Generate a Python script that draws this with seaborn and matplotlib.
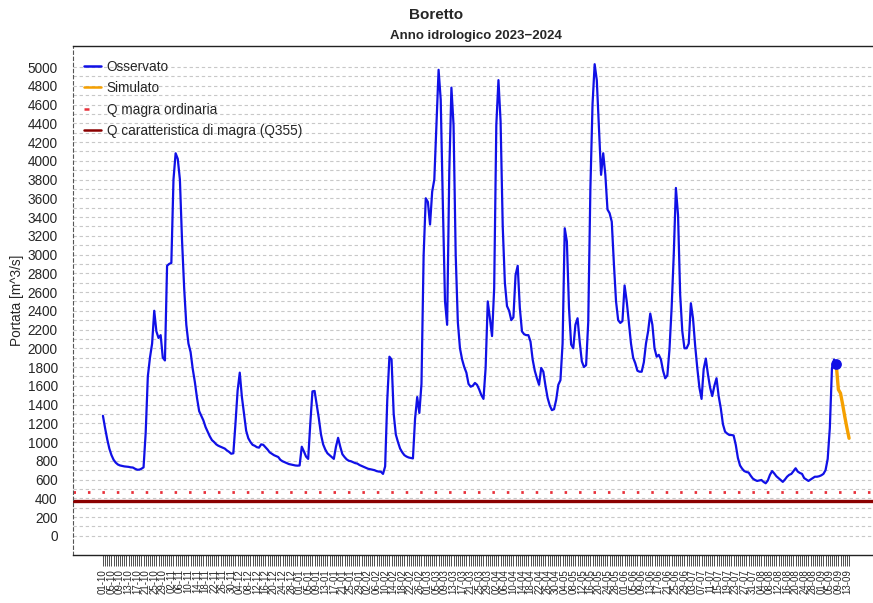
import numpy as np
import pandas as pd
import matplotlib
matplotlib.use("Agg")
import matplotlib.pyplot as plt
import matplotlib.dates as mdates
import seaborn as sns
from matplotlib.lines import Line2D

# ---------------- data ----------------
start_date = "2023-10-01"
osservato = [
    # Oct 2023
    1280, 1150, 1030, 930, 860, 810, 780, 760, 750, 745, 740, 738, 735, 730, 728, 715,
    705, 705, 715, 730, 1100, 1700, 1900, 2050, 2400, 2180, 2110, 2140, 1900, 1870, 2880,
    # Nov
    2900, 2910, 3800, 4080, 4020, 3800, 3150, 2640, 2250, 2050, 1960, 1780, 1640, 1470, 1330,
    1280, 1230, 1160, 1110, 1060, 1020, 1000, 975, 960, 950, 940, 930, 910, 895, 875,
    # Dec
    880, 1200, 1550, 1740, 1480, 1300, 1120, 1040, 1000, 970, 960, 945, 940, 975, 970, 945,
    920, 890, 875, 860, 850, 840, 810, 795, 785, 775, 765, 760, 755, 750, 748,
    # Jan 2024
    750, 950, 900, 845, 820, 1200, 1540, 1545, 1400, 1250, 1080, 975, 920, 880, 860, 840,
    820, 950, 1045, 950, 870, 840, 815, 800, 795, 785, 775, 770, 755, 745, 735,
    # Feb
    725, 715, 710, 705, 700, 690, 685, 683, 660, 740, 1450, 1910, 1880, 1300, 1080,
    1000, 930, 890, 860, 845, 835, 830, 825, 1250, 1480, 1310, 1620, 2990, 3600,
    # Mar
    3560, 3320, 3670, 3800, 4400, 4970, 4650, 3530, 2500, 2250, 3880, 4780, 4380, 3000, 2280, 2000,
    1880, 1800, 1740, 1620, 1590, 1600, 1630, 1610, 1560, 1500, 1460, 1790, 2500, 2320, 2130,
    # Apr
    2640, 4380, 4860, 4420, 3300, 2700, 2450, 2400, 2300, 2330, 2780, 2880, 2430, 2180, 2150,
    2140, 2140, 2070, 1880, 1760, 1680, 1610, 1790, 1750, 1600, 1470, 1390, 1340, 1350, 1450,
    # May
    1610, 1660, 2050, 3280, 3140, 2430, 2040, 2000, 2250, 2320, 2070, 1860, 1800, 1820, 2280, 3700,
    4600, 5030, 4860, 4350, 3850, 4080, 3850, 3480, 3440, 3350, 2900, 2500, 2300, 2270, 2290,
    # Jun
    2670, 2500, 2280, 2050, 1900, 1840, 1760, 1750, 1750, 1850, 2050, 2180, 2370, 2250, 2000,
    1910, 1930, 1880, 1760, 1680, 1710, 1990, 2430, 3000, 3710, 3420, 2570, 2180, 2000, 2000,
    # Jul
    2050, 2480, 2320, 2030, 1790, 1580, 1460, 1780, 1890, 1720, 1580, 1490, 1600, 1680, 1490, 1360,
    1190, 1110, 1090, 1075, 1075, 1070, 970, 830, 750, 715, 690, 680, 675, 640, 610,
    # Aug
    595, 585, 590, 595, 575, 560, 590, 650, 690, 665, 635, 615, 595, 575, 600, 630,
    650, 660, 690, 720, 685, 670, 660, 615, 600, 585, 600, 615, 630, 630, 635,
    # Sep
    645, 660, 700, 820, 1150, 1790, 1880, 1830,
]
simulato = [1830, 1560, 1520, 1400, 1270, 1150, 1040]
q_magra_ordinaria = 470
q355 = 375
y_ticks = list(range(0, 5001, 200))

# ---------------- frames ----------------
obs_dates = pd.date_range(start_date, periods=len(osservato), freq="D")
sim_dates = pd.date_range(obs_dates[-1], periods=len(simulato), freq="D")
df_obs = pd.DataFrame({"data": obs_dates, "portata": osservato})
df_sim = pd.DataFrame({"data": sim_dates, "portata": simulato})
all_dates = pd.date_range(start_date, sim_dates[-1], freq="D")

# ---------------- plot ----------------
sns.set_style("white")
plt.rcParams["font.family"] = ["Liberation Sans", "DejaVu Sans"]

fig = plt.figure(figsize=(8.73, 6.03), dpi=100)
ax = fig.add_axes([73 / 873, 48 / 603, (879 - 73) / 873, (555 - 46) / 603])

for v in range(0, 5001, 100):
    ax.axhline(v, color="#c8c8c8", lw=0.8, ls=(0, (3, 2.5)), zorder=0)

ax.axhline(q_magra_ordinaria, color="#e8303a", lw=2.0, ls=(0, (0.9, 4.3)), zorder=2)
ax.axhline(q355, color="#8b0000", lw=2.4, zorder=2)

sns.lineplot(data=df_obs, x="data", y="portata", color="#1010e6", lw=1.6, ax=ax, zorder=3)
sns.lineplot(data=df_sim, x="data", y="portata", color="#f5a000", lw=2.4, ax=ax, zorder=4)
ax.scatter([df_obs["data"].iloc[-1]], [df_obs["portata"].iloc[-1]], s=45, color="#1010e6", zorder=5)

# legend
handles = [
    Line2D([], [], color="#1010e6", lw=1.8),
    Line2D([], [], color="#f5a000", lw=1.8),
    Line2D([], [], color="#e8303a", lw=1.8, ls=(0, (2, 20))),
    Line2D([], [], color="#8b0000", lw=1.8),
]
labels = ["Osservato", "Simulato", "Q magra ordinaria", "Q caratteristica di magra (Q355)"]
ax.legend(handles, labels, loc="upper left", frameon=False, fontsize=9.8,
          handlelength=1.2, handletextpad=0.45, labelspacing=0.55,
          bbox_to_anchor=(-0.003, 1.0), borderaxespad=0.6)

ax.set_xlim(all_dates[0] - pd.Timedelta(days=14), all_dates[-1] + pd.Timedelta(days=14))
ax.set_ylim(-205, 5224)
ax.set_yticks(y_ticks)
ax.set_yticklabels([str(t) for t in y_ticks], fontsize=9.8)
ax.tick_params(axis="y", length=0, pad=11)

ax.set_xticks(all_dates[::4])
ax.set_xticklabels([d.strftime("%d-%m") for d in all_dates[::4]], rotation=90, fontsize=7)
ax.set_xticks(all_dates, minor=True)
ax.tick_params(axis="x", which="both", length=8, width=0.6, color="#333333", pad=2, bottom=True)

ax.set_xlabel("")
ax.set_ylabel("Portata [m^3/s]", fontsize=9.8)
ax.yaxis.set_label_coords(-49 / 806, 0.5)

for side in ["top", "bottom"]:
    ax.spines[side].set_color("#222222")
    ax.spines[side].set_linewidth(1.0)
ax.spines["right"].set_visible(False)
ax.spines["left"].set_color("#555555")
ax.spines["left"].set_linestyle((0, (3, 2.5)))
ax.spines["left"].set_linewidth(0.8)

ax.set_title("Anno idrologico 2023\u22122024", fontsize=9.5, fontweight="bold", pad=5)
fig.text(436 / 873, 1 - 15 / 603, "Boretto", ha="center", va="center", fontsize=11, fontweight="bold")

fig.savefig("out.png", dpi=100)
